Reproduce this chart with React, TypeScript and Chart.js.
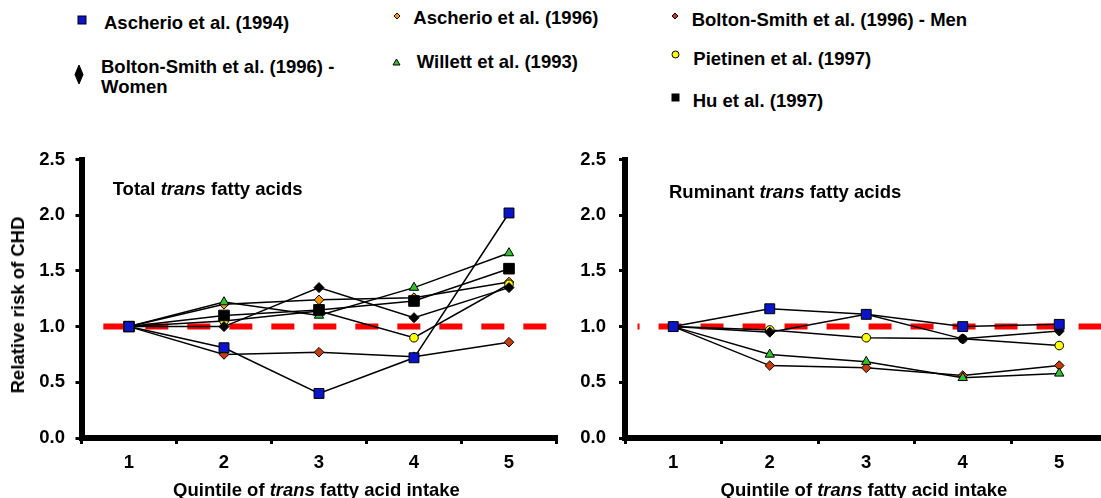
import React, { useEffect, useRef } from "react";
import { Chart, registerables } from "chart.js";

Chart.register(...registerables);

const FONT = "'Liberation Sans', Arial, Helvetica, sans-serif";

// Quintiles of trans fatty acid intake
const quintiles = [1, 2, 3, 4, 5];

// Relative risk of CHD – total trans fatty acids
const ascherio1994Total = [1.0, 0.81, 0.4, 0.72, 2.02];
const ascherio1996Total = [1.0, 1.2, 1.24, 1.26, 1.4];
const boltonMenTotal = [1.0, 0.75, 0.77, 0.73, 0.86];
const boltonWomenTotal = [1.0, 1.0, 1.35, 1.08, 1.35];
const willettTotal = [1.0, 1.22, 1.1, 1.35, 1.66];
const pietinenTotal = [1.0, 1.05, 1.14, 0.9, 1.38];
const huTotal = [1.0, 1.1, 1.15, 1.23, 1.52];

// Relative risk of CHD – ruminant trans fatty acids
const ascherio1994Ruminant = [1.0, 1.16, 1.11, 1.0, 1.02];
const boltonMenRuminant = [1.0, 0.65, 0.63, 0.56, 0.65];
const boltonWomenRuminant = [1.0, 0.95, 1.11, 0.89, 0.96];
const willettRuminant = [1.0, 0.75, 0.685, 0.54, 0.58];
const pietinenRuminant = [1.0, 0.97, 0.9, 0.89, 0.83];

// Reference risk line (RR = 1.0) and its extent along the quintile axis
const referenceRisk = 1.0;
const refSpanTotal = [0.73, 5.4];
const refSpanRuminant = [0.63, 5.48];

const yMin = 0;
const yMax = 2.5;
const yStep = 0.5;

type SeriesStyle = {
  label: string;
  pointStyle: string;
  fill: string;
  radius: number;
};

const STYLES: Record<string, SeriesStyle> = {
  ascherio1994: { label: "Ascherio et al. (1994)", pointStyle: "rect", fill: "#0a14c8", radius: 7 },
  ascherio1996: { label: "Ascherio et al. (1996)", pointStyle: "rectRot", fill: "#ff9900", radius: 4.8 },
  boltonMen: { label: "Bolton-Smith et al. (1996) - Men", pointStyle: "rectRot", fill: "#c83c0a", radius: 4.8 },
  boltonWomen: { label: "Bolton-Smith et al. (1996) - Women", pointStyle: "rectRot", fill: "#000000", radius: 5 },
  willett: { label: "Willett et al. (1993)", pointStyle: "triangle", fill: "#2ec42e", radius: 5.4 },
  pietinen: { label: "Pietinen et al. (1997)", pointStyle: "circle", fill: "#ffff00", radius: 4.3 },
  hu: { label: "Hu et al. (1997)", pointStyle: "rect", fill: "#000000", radius: 7.5 },
};

function seriesDataset(key: string, values: number[]) {
  const s = STYLES[key];
  return {
    label: s.label,
    data: quintiles.map((q, i) => ({ x: q, y: values[i] })),
    borderColor: "#000",
    borderWidth: 1.5,
    tension: 0,
    pointStyle: s.pointStyle,
    pointRadius: s.radius,
    pointBackgroundColor: s.fill,
    pointBorderColor: "#000",
    pointBorderWidth: 1,
  };
}

function refDataset(span: number[], dashOffset: number) {
  return {
    label: "RR = 1",
    data: [
      { x: span[0], y: referenceRisk },
      { x: span[1], y: referenceRisk },
    ],
    borderColor: "#ff0000",
    borderWidth: 6,
    borderDash: [23, 19],
    borderDashOffset: dashOffset,
    borderCapStyle: "butt",
    pointRadius: 0,
  };
}

const isWhole = (v: number) => Math.abs(v - Math.round(v)) < 1e-6;

type PanelProps = {
  datasets: any[];
  left: number;
  width: number;
  axisLeft: number;
  padRight: number;
  yLabelPad: number;
};

const CANVAS_TOP = 130;
const CANVAS_H = 368;
const AREA_TOP = 29.5; // pixel of 2.5 in canvas
const X_AXIS_H = 60; // space under the plot area

function Panel({ datasets, left, width, axisLeft, padRight, yLabelPad }: PanelProps) {
  const ref = useRef<HTMLCanvasElement>(null);
  useEffect(() => {
    const tickFont = { family: FONT, size: 18.5, weight: "bold" as const, lineHeight: 1.2 };
    const chart = new Chart(ref.current!, {
      type: "line",
      data: { datasets },
      options: {
        animation: false,
        responsive: false,
        devicePixelRatio: 1,
        layout: {
          autoPadding: false,
          padding: { top: AREA_TOP, right: padRight, bottom: 0, left: 0 },
        },
        plugins: { legend: { display: false }, tooltip: { enabled: false } },
        scales: {
          x: {
            type: "linear",
            min: 0.5,
            max: 5.5,
            afterFit: (s: any) => {
              s.height = X_AXIS_H;
            },
            border: { display: true, color: "#000", width: 6 },
            grid: {
              drawOnChartArea: false,
              drawTicks: true,
              tickLength: 6,
              lineWidth: 3,
              color: (ctx: any) => (ctx.tick && isWhole(ctx.tick.value) ? "rgba(0,0,0,0)" : "#000"),
            },
            ticks: {
              stepSize: 0.5,
              autoSkip: false,
              maxRotation: 0,
              padding: 7.5,
              color: "#000",
              font: tickFont,
              callback: (v: any) => (isWhole(Number(v)) ? String(Math.round(Number(v))) : ""),
            },
          },
          y: {
            type: "linear",
            min: yMin,
            max: yMax,
            afterFit: (s: any) => {
              s.width = axisLeft;
            },
            border: { display: true, color: "#000", width: 6 },
            grid: {
              drawOnChartArea: false,
              drawTicks: true,
              tickLength: 6,
              lineWidth: 3,
              color: "#000",
            },
            ticks: {
              stepSize: yStep,
              padding: yLabelPad,
              color: "#000",
              font: tickFont,
              callback: (v: any) => Number(v).toFixed(1),
            },
          },
        },
      } as any,
    });
    return () => chart.destroy();
  }, []);
  return (
    <canvas
      ref={ref}
      width={width}
      height={CANVAS_H}
      style={{ position: "absolute", left, top: CANVAS_TOP, width, height: CANVAS_H }}
    />
  );
}

const textStyle: React.CSSProperties = {
  position: "absolute",
  fontFamily: FONT,
  fontWeight: "bold",
  fontSize: 18.5,
  lineHeight: "22px",
  color: "#000",
  whiteSpace: "nowrap",
};

function Text({ x, cy, center, children }: { x: number; cy: number; center?: boolean; children: React.ReactNode }) {
  return (
    <div style={{ ...textStyle, left: x, top: cy - 11, transform: center ? "translateX(-50%)" : undefined }}>
      {children}
    </div>
  );
}

function Marker({ kind, cx, cy, w, h, fill }: { kind: string; cx: number; cy: number; w: number; h: number; fill: string }) {
  const W = w + 2;
  const H = h + 2;
  let shape: React.ReactNode = null;
  if (kind === "rect") shape = <rect x={1} y={1} width={w} height={h} fill={fill} stroke="#000" strokeWidth={1} />;
  if (kind === "diamond")
    shape = (
      <polygon
        points={`${W / 2},1 ${W - 1},${H / 2} ${W / 2},${H - 1} 1,${H / 2}`}
        fill={fill}
        stroke="#000"
        strokeWidth={1}
      />
    );
  if (kind === "triangle")
    shape = <polygon points={`${W / 2},1 ${W - 1},${H - 1} 1,${H - 1}`} fill={fill} stroke="#000" strokeWidth={1} />;
  if (kind === "circle") shape = <circle cx={W / 2} cy={H / 2} r={w / 2} fill={fill} stroke="#000" strokeWidth={1} />;
  return (
    <svg width={W} height={H} style={{ position: "absolute", left: cx - W / 2, top: cy - H / 2 }}>
      {shape}
    </svg>
  );
}

export default function App() {
  const totalSets = [
    seriesDataset("ascherio1994", ascherio1994Total),
    seriesDataset("hu", huTotal),
    seriesDataset("willett", willettTotal),
    seriesDataset("boltonWomen", boltonWomenTotal),
    seriesDataset("pietinen", pietinenTotal),
    seriesDataset("boltonMen", boltonMenTotal),
    seriesDataset("ascherio1996", ascherio1996Total),
    refDataset(refSpanTotal, 0),
  ];
  const ruminantSets = [
    seriesDataset("ascherio1994", ascherio1994Ruminant),
    seriesDataset("willett", willettRuminant),
    seriesDataset("boltonWomen", boltonWomenRuminant),
    seriesDataset("pietinen", pietinenRuminant),
    seriesDataset("boltonMen", boltonMenRuminant),
    refDataset(refSpanRuminant, 21),
  ];

  return (
    <div
      style={{
        position: "fixed",
        left: 0,
        top: 0,
        width: 1101,
        height: 498,
        overflow: "hidden",
        background: "#fff",
      }}
    >
      {/* Legend */}
      <Marker kind="rect" cx={81.5} cy={20} w={8} h={8} fill={STYLES.ascherio1994.fill} />
      <Text x={104} cy={22.7}>{STYLES.ascherio1994.label}</Text>

      <Marker kind="diamond" cx={396.5} cy={15.5} w={6} h={6} fill={STYLES.ascherio1996.fill} />
      <Text x={413.3} cy={17.8}>{STYLES.ascherio1996.label}</Text>

      <Marker kind="diamond" cx={675} cy={16} w={6} h={6} fill={STYLES.boltonMen.fill} />
      <Text x={691.7} cy={20.3}>{STYLES.boltonMen.label}</Text>

      <Marker kind="diamond" cx={79.2} cy={74.5} w={8} h={19} fill={STYLES.boltonWomen.fill} />
      <div style={{ ...textStyle, left: 101, top: 66.7 - 10, lineHeight: "20px" }}>
        Bolton-Smith et al. (1996) -<br />Women
      </div>

      <Marker kind="triangle" cx={396.7} cy={61.5} w={7} h={6} fill={STYLES.willett.fill} />
      <Text x={416.7} cy={61.7}>{STYLES.willett.label}</Text>

      <Marker kind="circle" cx={675.5} cy={54.2} w={7} h={7} fill={STYLES.pietinen.fill} />
      <Text x={693.3} cy={58.7}>{STYLES.pietinen.label}</Text>

      <Marker kind="rect" cx={675.5} cy={97.8} w={7} h={7} fill={STYLES.hu.fill} />
      <Text x={692.7} cy={100.8}>{STYLES.hu.label}</Text>

      {/* Panels */}
      <Panel datasets={totalSets} left={0} width={580} axisLeft={81.5} padRight={23.5} yLabelPad={10.5} />
      <Panel datasets={ruminantSets} left={540} width={575} axisLeft={85} padRight={5} yLabelPad={13} />

      {/* Panel titles */}
      <Text x={112.7} cy={189.2}>
        Total <i>trans</i> fatty acids
      </Text>
      <Text x={669} cy={192.2}>
        Ruminant <i>trans</i> fatty acids
      </Text>

      {/* Axis titles */}
      <Text x={316.5} cy={490} center>
        Quintile of <i>trans</i> fatty acid intake
      </Text>
      <Text x={864} cy={490} center>
        Quintile of <i>trans</i> fatty acid intake
      </Text>
      <div
        style={{
          ...textStyle,
          left: 17.5,
          top: 304.5,
          transform: "translate(-50%, -50%) rotate(-90deg)",
        }}
      >
        Relative risk of CHD
      </div>
    </div>
  );
}
